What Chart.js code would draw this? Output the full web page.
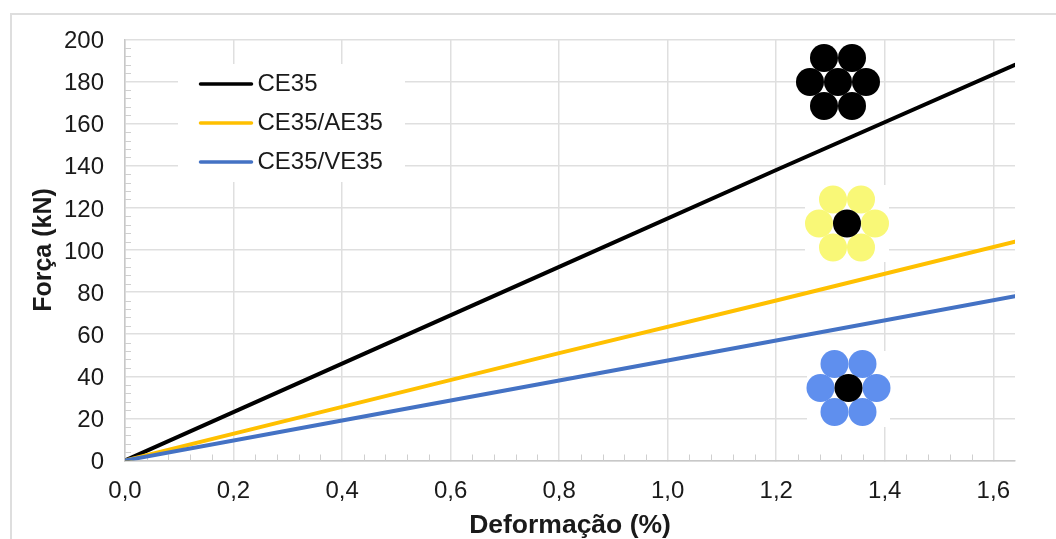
<!DOCTYPE html>
<html>
<head>
<meta charset="utf-8">
<style>
  html, body { margin: 0; padding: 0; background: #fff; overflow: hidden; }
  #wrap { width: 1056px; height: 539px; position: relative; }
</style>
<script src="https://cdn.jsdelivr.net/npm/chart.js@4"></script>
</head>
<body>
<div id="wrap"><canvas id="myChart" width="1056" height="539"></canvas></div>
<script>
const strain = [0, 0.4, 0.8, 1.2, 1.64];
const ce35 = [0, 46, 92, 138, 188];
const ce35ae35 = [0, 25.5, 51, 76, 104];
const ce35ve35 = [0, 19, 38, 57, 78];

const seriesNames = ["CE35", "CE35/AE35", "CE35/VE35"];
const seriesColors = ["#000000", "#FFC000", "#4472C4"];

const FONT = "'Liberation Sans', Arial, sans-serif";
const GRID = "#DFDFDF";

// strand cross sections, drawn over the grid
const outerOffsets = [[-14, -24], [14, -24], [-28, 0], [28, 0], [-14, 24], [14, 24]];
const icons = [
  { cx: 838, cy: 82, outer: "#000000", mask: null },
  { cx: 847, cy: 223.5, outer: "#F9F877", mask: [805, 185, 84, 77] },
  { cx: 848.5, cy: 388, outer: "#5F8FEE", mask: [807, 351, 83, 76] },
];

function toPoints(values) {
  return values.map((v, i) => ({ x: strain[i], y: v }));
}

function circle(ctx, x, y, r, fill) {
  ctx.beginPath();
  ctx.arc(x, y, r, 0, Math.PI * 2);
  ctx.fillStyle = fill;
  ctx.fill();
}

const decorations = {
  id: "decorations",
  beforeDraw(chart) {
    // outer frame, only top and left are inside the picture
    const ctx = chart.ctx;
    ctx.fillStyle = "#DEDEDE";
    ctx.fillRect(10, 13, 1046, 2);
    ctx.fillRect(10, 13, 2, 526);
  },
  beforeDatasetsDraw(chart) {
    const ctx = chart.ctx;
    const xs = chart.scales.x;
    const ys = chart.scales.y;
    ctx.save();

    // minor ticks
    ctx.strokeStyle = "#CFCFCF";
    ctx.lineWidth = 1;
    ctx.beginPath();
    for (let v = 4; v < 200; v += 4) {
      if (v % 20 === 0) continue;
      const py = Math.round(ys.getPixelForValue(v)) + 0.5;
      ctx.moveTo(xs.left, py);
      ctx.lineTo(xs.left + 6, py);
    }
    for (let k = 1; k * 0.04 < 1.64; k++) {
      if (k % 5 === 0) continue;
      const px = Math.round(xs.getPixelForValue(k * 0.04)) + 0.5;
      ctx.moveTo(px, ys.bottom);
      ctx.lineTo(px, ys.bottom - 6);
    }
    ctx.stroke();

    // legend with its white box over the grid
    ctx.fillStyle = "#fff";
    ctx.fillRect(178, 64, 227, 118);
    const rowY = [84, 123, 162];
    ctx.font = "24px " + FONT;
    ctx.textBaseline = "middle";
    seriesNames.forEach((name, i) => {
      ctx.beginPath();
      ctx.moveTo(200.5, rowY[i]);
      ctx.lineTo(251.5, rowY[i]);
      ctx.lineWidth = 3.5;
      ctx.lineCap = "round";
      ctx.strokeStyle = seriesColors[i];
      ctx.stroke();
      ctx.fillStyle = "#1A1A1A";
      ctx.fillText(name, 257.5, rowY[i] + 0.5);
    });

    // strand icons
    icons.forEach((ic) => {
      if (ic.mask) {
        ctx.fillStyle = "#fff";
        ctx.fillRect(ic.mask[0], ic.mask[1], ic.mask[2], ic.mask[3]);
      }
      outerOffsets.forEach((o) => {
        circle(ctx, ic.cx + o[0], ic.cy + o[1], 14, ic.outer);
      });
      circle(ctx, ic.cx, ic.cy, 14, "#000000");
    });
    ctx.restore();
  },
};

const ctx = document.getElementById("myChart").getContext("2d");

const lineChart = new Chart(ctx, {
  type: "line",
  data: {
    datasets: [
      { label: seriesNames[0], data: toPoints(ce35), borderColor: seriesColors[0], order: 3 },
      { label: seriesNames[1], data: toPoints(ce35ae35), borderColor: seriesColors[1], order: 2 },
      { label: seriesNames[2], data: toPoints(ce35ve35), borderColor: seriesColors[2], order: 1 },
    ],
  },
  options: {
    responsive: false,
    animation: false,
    parsing: false,
    layout: { padding: { left: 0, top: 39.5, right: 41, bottom: 0 } },
    elements: {
      point: { radius: 0 },
      line: { borderWidth: 4, tension: 0, fill: false, borderCapStyle: "round" },
    },
    plugins: { legend: { display: false }, tooltip: { enabled: false } },
    scales: {
      x: {
        type: "linear",
        min: 0,
        max: 1.64,
        afterFit: (scale) => { scale.height = 78.5; },
        ticks: {
          stepSize: 0.2,
          includeBounds: false,
          maxRotation: 0,
          autoSkip: false,
          padding: 16,
          color: "#1A1A1A",
          font: { family: FONT, size: 24 },
          callback: (v) => v.toFixed(1).replace(".", ","),
        },
        grid: { color: GRID, lineWidth: 1.5, tickLength: 0 },
        border: { color: "#C8C8C8", width: 1.5 },
        title: {
          display: true,
          text: "Deformação (%)",
          color: "#1A1A1A",
          font: { family: FONT, size: 26.5, weight: "bold" },
          padding: { top: 0, bottom: -3 },
        },
      },
      y: {
        min: 0,
        max: 200,
        afterFit: (scale) => { scale.width = 125; },
        ticks: {
          stepSize: 20,
          padding: 21,
          color: "#1A1A1A",
          // empty first line with a small line height moves the digits down 2px
          font: { family: FONT, size: 24, lineHeight: "4px" },
          callback: (v) => ["", String(v)],
        },
        grid: { color: GRID, lineWidth: 1.5, tickLength: 0 },
        border: { color: "#C8C8C8", width: 1.5 },
        title: {
          display: true,
          text: "Força (kN)",
          color: "#1A1A1A",
          font: { family: FONT, size: 25, weight: "bold" },
          padding: { top: 29, bottom: 0 },
        },
      },
    },
  },
  plugins: [decorations],
});
</script>
</body>
</html>
